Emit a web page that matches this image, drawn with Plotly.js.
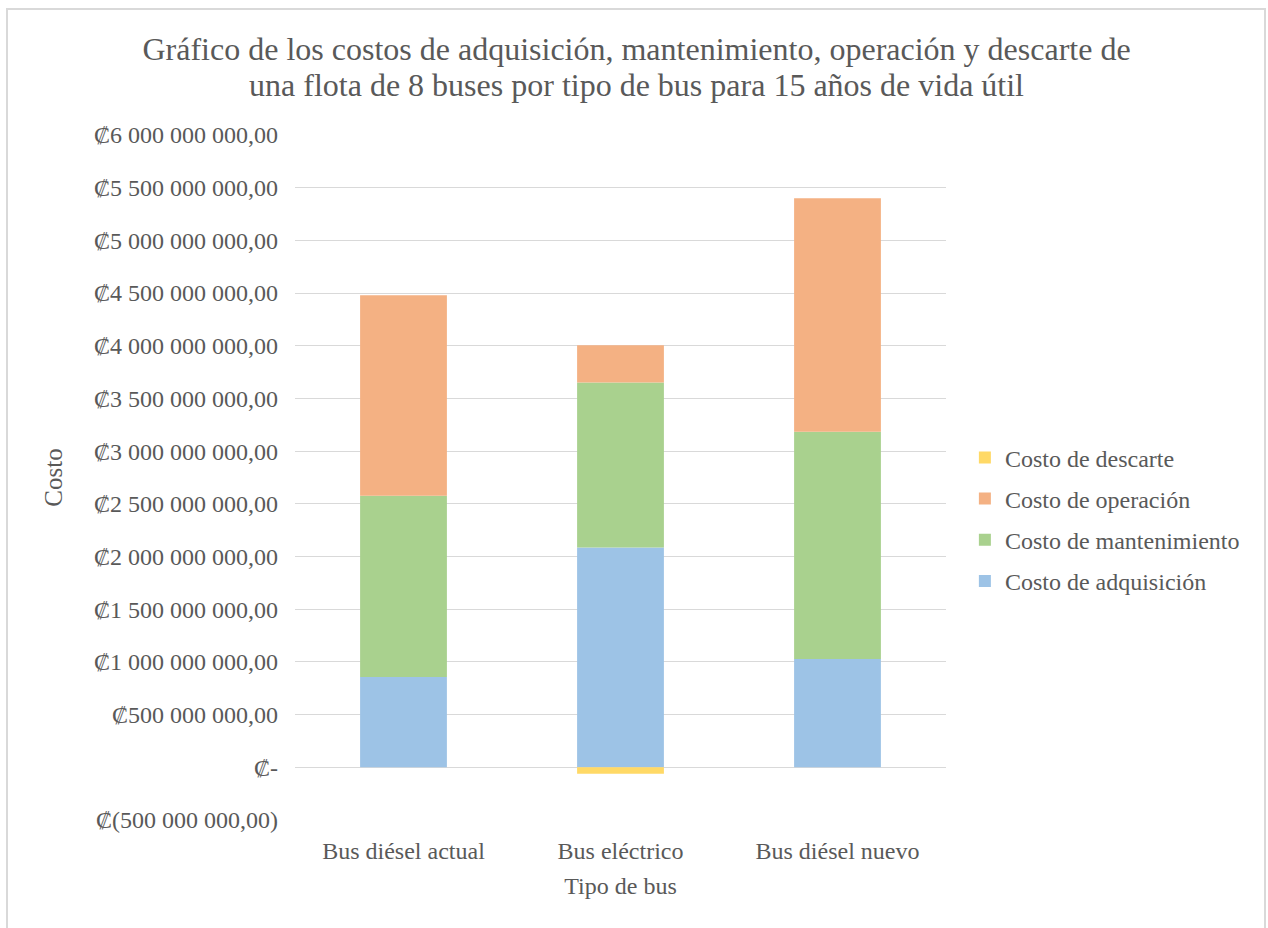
<!DOCTYPE html>
<html>
<head>
<meta charset="utf-8">
<script src="https://cdn.plot.ly/plotly-3.0.1.min.js"></script>
<style>
  html, body { margin: 0; padding: 0; background: #ffffff; }
  #wrap { position: relative; width: 1268px; height: 928px; overflow: hidden; }
  #chart { position: absolute; left: 0; top: 0; width: 1268px; height: 928px; }
  #frame { position: absolute; left: 6px; top: 8px; width: 1260px; height: 940px;
           border: 2px solid #d9d9d9; pointer-events: none; box-sizing: border-box; }
</style>
</head>
<body>
<div id="wrap">
  <div id="chart"></div>
  <div id="frame"></div>
</div>
<script>
// Categories
const categories = ["Bus diésel actual", "Bus eléctrico", "Bus diésel nuevo"];

// Series values (colones)
const costoAdquisicion   = [857000000, 2086000000, 1028000000];
const costoMantenimiento = [1721000000, 1566000000, 2155000000];
const costoOperacion     = [1902000000, 354000000, 2216000000];
const costoDescarte      = [0, -60000000, 0];

// Series names
const seriesNames = ["Costo de adquisición", "Costo de mantenimiento", "Costo de operación", "Costo de descarte"];

// Y tick values and labels
const yTickVals = [-500000000, 0, 500000000, 1000000000, 1500000000, 2000000000, 2500000000,
                   3000000000, 3500000000, 4000000000, 4500000000, 5000000000, 5500000000, 6000000000];
const yTickText = ["₡(500 000 000,00)", "₡-", "₡500 000 000,00", "₡1 000 000 000,00", "₡1 500 000 000,00",
                   "₡2 000 000 000,00", "₡2 500 000 000,00", "₡3 000 000 000,00", "₡3 500 000 000,00",
                   "₡4 000 000 000,00", "₡4 500 000 000,00", "₡5 000 000 000,00", "₡5 500 000 000,00",
                   "₡6 000 000 000,00"];

const colors = ["#9dc3e6", "#a9d18e", "#f4b183", "#ffd966"];
const seriesValues = [costoAdquisicion, costoMantenimiento, costoOperacion, costoDescarte];

const FONT = "Liberation Serif, Times New Roman, serif";
const TXT = "#595959";

const traces = seriesValues.map((vals, i) => ({
  type: "bar",
  name: seriesNames[i],
  x: categories,
  y: vals,
  legendgroup: "g" + i,
  legendrank: 10 - i,
  marker: { color: colors[i], line: { width: 0 } },
  hoverinfo: "x+y+name"
}));

const layout = {
  width: 1268,
  height: 928,
  paper_bgcolor: "#ffffff",
  plot_bgcolor: "#ffffff",
  barmode: "relative",
  bargap: 0.6,
  font: { family: FONT, color: TXT, size: 24 },
  margin: { l: 295, r: 322, t: 135, b: 108, autoexpand: false },
  title: {
    text: "Gráfico de los costos de adquisición, mantenimiento, operación y descarte de<br>una flota de 8 buses por tipo de bus para 15 años de vida útil",
    font: { family: FONT, size: 32, color: TXT },
    xref: "container", x: 0.502, xanchor: "center",
    yref: "container", y: 0.935, yanchor: "top"
  },
  xaxis: {
    type: "category",
    showgrid: false,
    showline: false,
    zeroline: false,
    ticks: "",
    ticklabelstandoff: 14,
    tickfont: { family: FONT, size: 24, color: TXT },
    title: { text: "Tipo de bus", font: { family: FONT, size: 24, color: TXT }, standoff: 14 },
    automargin: false
  },
  yaxis: {
    range: [-500000000, 6000000000],
    tickmode: "array",
    tickvals: yTickVals,
    ticktext: yTickText,
    showgrid: true,
    gridcolor: "#d9d9d9",
    gridwidth: 1.3,
    zeroline: true,
    zerolinecolor: "#d9d9d9",
    zerolinewidth: 1.3,
    showline: false,
    ticks: "",
    ticklabelstandoff: 16,
    tickfont: { family: FONT, size: 24, color: TXT },
    title: { text: "Costo", font: { family: FONT, size: 25, color: TXT }, standoff: 24 },
    automargin: false,
    fixedrange: true
  },
  legend: {
    x: 0.029, xanchor: "left",
    xref: "paper",
    y: 0.439, yanchor: "middle",
    traceorder: "grouped",
    tracegroupgap: 7,
    font: { family: FONT, size: 24, color: TXT },
    itemwidth: 30,
    bgcolor: "rgba(0,0,0,0)"
  },
  showlegend: true
};

// legend x measured from the right edge of the plot area
layout.legend.x = 1 + layout.legend.x;

Plotly.newPlot("chart", traces, layout, { displayModeBar: false }).then(function (gd) {
  // tighten the title's line spacing to match the reference
  const lines = gd.querySelectorAll(".gtitle tspan.line");
  for (let k = 1; k < lines.length; k++) {
    lines[k].setAttribute("dy", "1.1em");
  }
});
</script>
</body>
</html>
